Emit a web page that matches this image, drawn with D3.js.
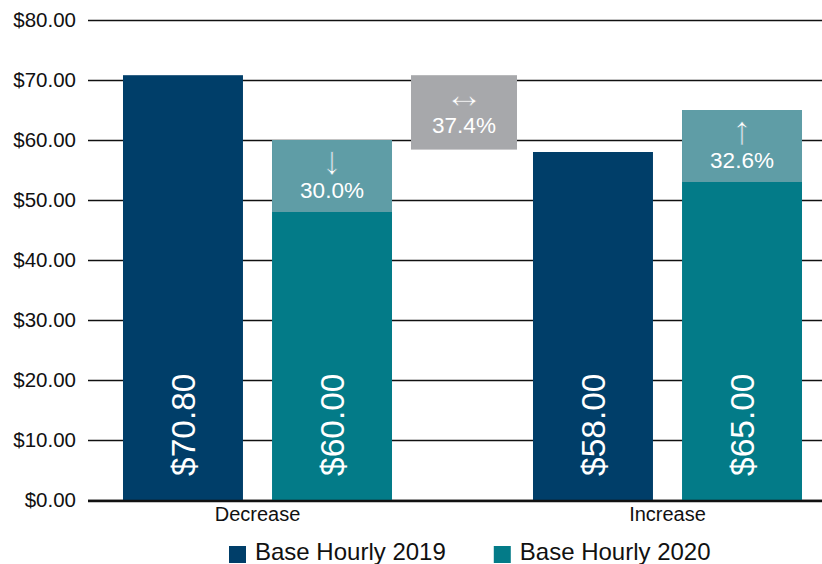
<!DOCTYPE html>
<html>
<head>
<meta charset="utf-8">
<script src="https://cdn.jsdelivr.net/npm/d3@7"></script>
<style>
  body { margin: 0; background: #fff; }
  svg { display: block; font-family: "Liberation Sans", Arial, sans-serif; }
  .y.axis text { font-size: 20.5px; fill: #111; }
  .x.axis text { font-size: 20px; fill: #111; }
</style>
</head>
<body>
<div id="chart"></div>
<script>
let categories = ['Decrease', 'Increase']
let seriesNames = ['Base Hourly 2019', 'Base Hourly 2020']
let hourly2019 = [70.80, 58.00]
let hourly2020 = [60.00, 65.00]
// highlighted top part of the 2020 bars
let changeLow = [48.00, 53.00]
let changeArrows = ['\u2193', '\u2191']
let changeLabels = ['30.0%', '32.6%']
// grey box between the groups
let gapRange = [58.4, 70.8]
let gapArrow = '\u2194'
let gapLabel = '37.4%'
let yTicks = [0, 10, 20, 30, 40, 50, 60, 70, 80]

let colors = ['#003e69', '#037b88']
let lightTeal = '#5f9da6'
let grey = '#a7a8ab'

var width = 822
var height = 564
var left = 88

var svg = d3.select('#chart').append('svg')
  .attr('width', width)
  .attr('height', height)

var y = d3.scaleLinear()
  .domain([0, 80])
  .range([500, 20])

var x0 = d3.scaleBand()
  .domain(categories)
  .range([52.5, 872.5])

var x1 = d3.scaleBand()
  .domain(seriesNames)
  .range([0, x0.bandwidth()])
  .paddingInner(0.195)
  .paddingOuter(0.473)

var yAxis = d3.axisLeft(y)
  .tickValues(yTicks)
  .tickSize(-(width - left))
  .tickPadding(12)
  .tickFormat(d3.format('$.2f'))

svg.append('g')
  .attr('class', 'y axis')
  .attr('transform', 'translate(' + left + ',0)')
  .call(yAxis)
  .call(g => g.select('.domain').remove())
  .call(g => g.selectAll('.tick line').attr('stroke', '#111').attr('stroke-width', 1.3))

let data = categories.map((c, i) => ({
  cat: c,
  values: [hourly2019[i], hourly2020[i]],
  low: changeLow[i],
  arrow: changeArrows[i],
  label: changeLabels[i]
}))

var groups = svg.selectAll('.group')
  .data(data)
  .enter().append('g')
  .attr('class', 'group')
  .attr('transform', d => 'translate(' + x0(d.cat) + ',0)')

groups.selectAll('.bar')
  .data(d => d.values.map((v, j) => ({ name: seriesNames[j], value: v, j: j })))
  .enter().append('rect')
  .attr('class', 'bar')
  .attr('x', d => x1(d.name))
  .attr('width', x1.bandwidth())
  .attr('y', d => y(d.value))
  .attr('height', d => y(0) - y(d.value))
  .attr('fill', d => colors[d.j])

// value labels, rotated
groups.selectAll('.val')
  .data(d => d.values.map((v, j) => ({ name: seriesNames[j], value: v })))
  .enter().append('text')
  .attr('class', 'val')
  .attr('transform', d => 'translate(' + (x1(d.name) + x1.bandwidth() / 2) + ',' + (y(0) - 24) + ') rotate(-90)')
  .attr('dy', '0.35em')
  .attr('fill', '#fff')
  .style('font-size', '33.5px')
  .text(d => d3.format('$.2f')(d.value))

// highlighted change segment on 2020 bars
var seg = groups.append('g')
seg.append('rect')
  .attr('x', x1(seriesNames[1]))
  .attr('width', x1.bandwidth())
  .attr('y', d => y(d.values[1]))
  .attr('height', d => y(d.low) - y(d.values[1]))
  .attr('fill', lightTeal)
// arrow glyph, thinned a bit with a stroke in the box colour
seg.append('text')
  .attr('x', x1(seriesNames[1]) + x1.bandwidth() / 2)
  .attr('y', d => y(d.values[1]) + 34)
  .attr('text-anchor', 'middle')
  .attr('fill', '#fff')
  .attr('stroke', lightTeal)
  .attr('stroke-width', 0.6)
  .style('font-size', '40px')
  .text(d => d.arrow)
seg.append('text')
  .attr('x', x1(seriesNames[1]) + x1.bandwidth() / 2)
  .attr('y', d => y(d.values[1]) + 58)
  .attr('text-anchor', 'middle')
  .attr('fill', '#fff')
  .style('font-size', '22.5px')
  .text(d => d.label)

// grey gap box
var gx = x0(categories[1]) + 1.5
svg.append('rect')
  .attr('x', gx - 53)
  .attr('width', 106)
  .attr('y', y(gapRange[1]))
  .attr('height', y(gapRange[0]) - y(gapRange[1]))
  .attr('fill', grey)
svg.append('text')
  .attr('x', gx)
  .attr('y', y(gapRange[1]) + 33)
  .attr('text-anchor', 'middle')
  .attr('fill', '#fff')
  .attr('stroke', grey)
  .attr('stroke-width', 0.6)
  .style('font-size', '40px')
  .text(gapArrow)
svg.append('text')
  .attr('x', gx)
  .attr('y', y(gapRange[1]) + 58)
  .attr('text-anchor', 'middle')
  .attr('fill', '#fff')
  .style('font-size', '22.5px')
  .text(gapLabel)

// baseline
svg.append('line')
  .attr('x1', left)
  .attr('x2', width)
  .attr('y1', y(0) + 1)
  .attr('y2', y(0) + 1)
  .attr('stroke', '#111')
  .attr('stroke-width', 2.5)

var xAxis = d3.axisBottom(x0).tickSize(0).tickPadding(7)
svg.append('g')
  .attr('class', 'x axis')
  .attr('transform', 'translate(0,' + y(0) + ')')
  .call(xAxis)
  .call(g => g.select('.domain').remove())

// legend
var legend = svg.append('g').attr('class', 'legend')
let lx = 229
seriesNames.forEach((name, i) => {
  legend.append('rect')
    .attr('x', lx)
    .attr('y', 546)
    .attr('width', 17)
    .attr('height', 17)
    .attr('fill', colors[i])
  let t = legend.append('text')
    .attr('x', lx + 26)
    .attr('y', 560)
    .attr('fill', '#111')
    .style('font-size', '24px')
    .text(name)
  lx = lx + 26 + t.node().getComputedTextLength() + 48
})
</script>
</body>
</html>
